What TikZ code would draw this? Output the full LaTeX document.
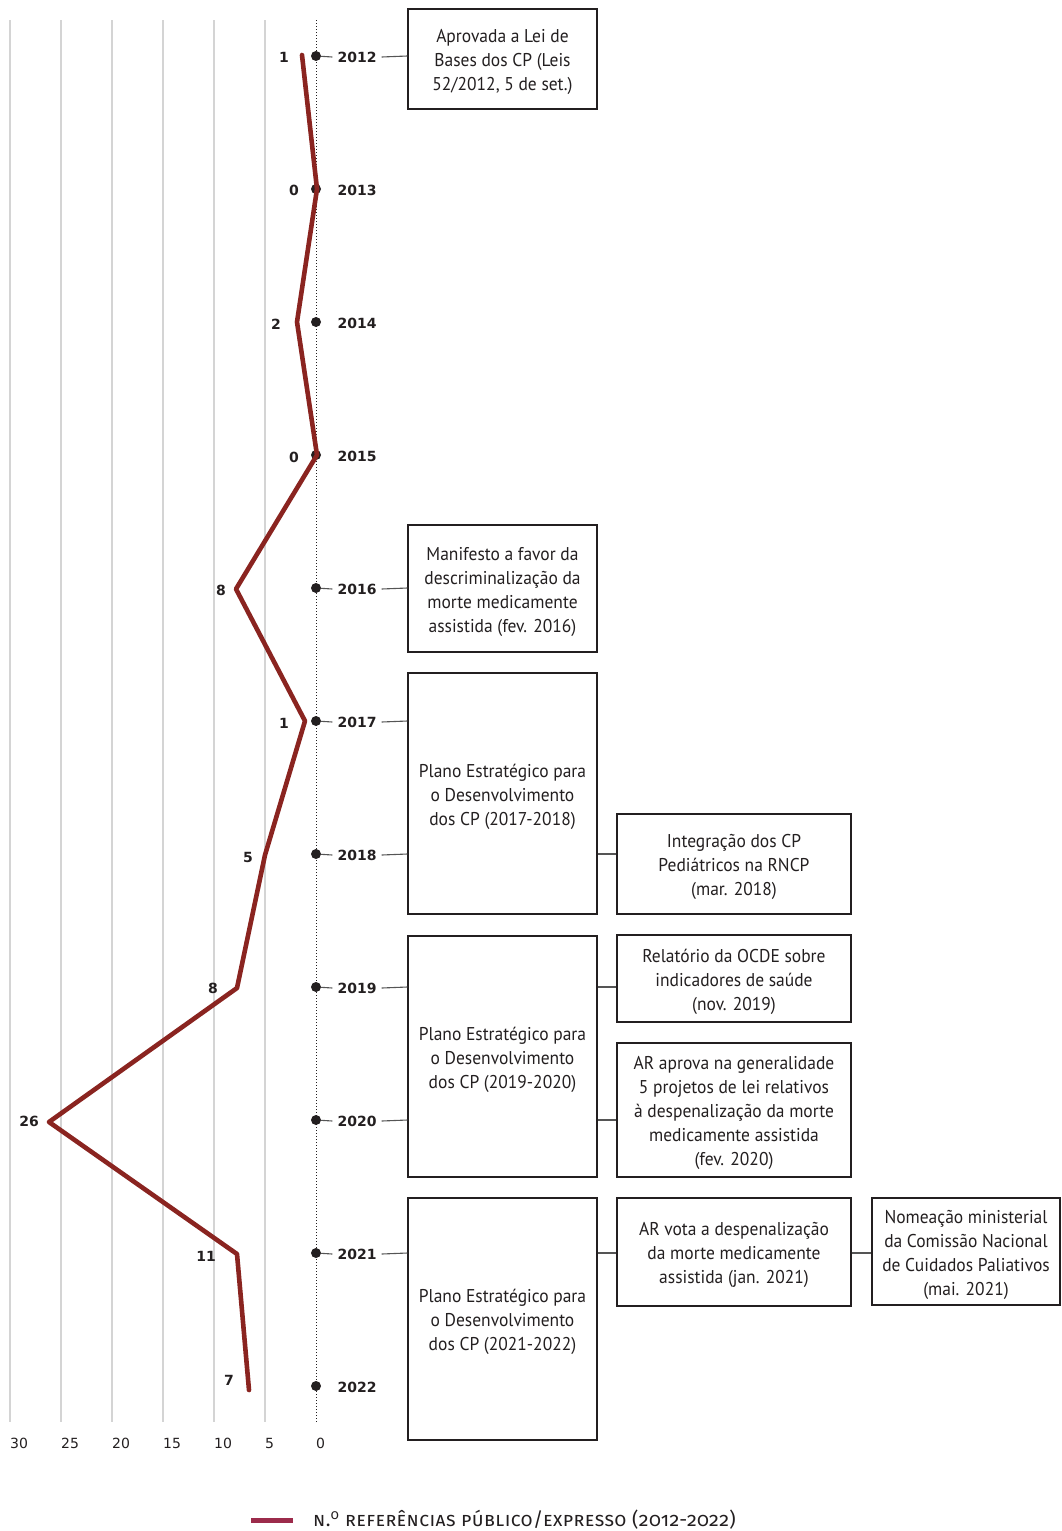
\documentclass[tikz,border=0pt]{standalone}
\usepackage{fontspec}
\setmainfont{PT Sans}
\newfontfamily\boxfont{PT Sans}[FakeStretch=0.945]
\newfontfamily\numfont{DejaVu Sans}
\newfontfamily\legfont{Fira Sans}[Letters=SmallCaps,Numbers=OldStyle,LetterSpace=2]
\definecolor{ink}{HTML}{231F20}
\definecolor{grid}{HTML}{D4D4D4}
\definecolor{series}{HTML}{8A2420}
\definecolor{legbar}{HTML}{9C2B4B}
\definecolor{conn}{HTML}{555555}
\tikzset{
  gridline/.style={draw=grid,line width=1.4pt},
  yeardot/.style={circle,fill=ink,inner sep=0pt,minimum size=10pt},
  yearlbl/.style={font=\numfont\bfseries\fontsize{14}{16}\selectfont,text=ink,inner xsep=5pt,inner ysep=2pt},
  vallbl/.style={font=\numfont\bfseries\fontsize{14}{16}\selectfont,text=ink,inner sep=0pt},
  axlbl/.style={font=\numfont\fontsize{14}{16}\selectfont,text=ink,inner sep=0pt,anchor=west},
  eventbox/.style={draw=ink,line width=1.1pt,inner sep=0pt},
  eventtext/.style={align=center,text=ink,inner sep=0pt,yshift=-3pt,
    font=\boxfont\fontsize{18.5}{24}\selectfont},
  link/.style={draw=conn,line width=1.1pt},
  seriesline/.style={draw=series,line width=4.6pt,line cap=round,line join=round},
}
\begin{document}
\begin{tikzpicture}[x=1pt,y=-1pt]
\useasboundingbox (0,0) rectangle (1061,1531);
% grid
\foreach \gx in {10,61,112,163,214,265} \draw[gridline] (\gx,20) -- (\gx,1422);
\draw[ink,line width=1pt,dotted] (316,20) -- (316,1422);
% axis labels
\node[axlbl] (a30) at (10,1443) {30};
\node[axlbl] (a25) at (61,1443) {25};
\node[axlbl] (a20) at (112,1443) {20};
\node[axlbl] (a15) at (163,1443) {15};
\node[axlbl] (a10) at (214,1443) {10};
\node[axlbl] (a5) at (265,1443) {5};
\node[axlbl] (a0) at (316,1443) {0};
% year dots and labels
\foreach \yr/\yy in {2012/56,2013/189,2014/322,2015/455,2016/588,2017/721,2018/854,2019/987,2020/1120,2021/1253,2022/1386}{
  \node[yeardot] (d\yr) at (316,\yy) {};
  \node[yearlbl] (y\yr) at (357,\yy+1) {\yr};
}
% series line
\draw[seriesline] (302,55) -- (317,189) -- (297,322) -- (317,455) -- (236,589) -- (305,721) -- (265,855) -- (237,988) -- (49,1122) -- (237,1254) -- (249,1390);
% value labels
\node[vallbl] (v2012) at (284,57) {1};
\node[vallbl] (v2013) at (294,190) {0};
\node[vallbl] (v2014) at (276,324) {2};
\node[vallbl] (v2015) at (294,457) {0};
\node[vallbl] (v2016) at (221,590) {8};
\node[vallbl] (v2017) at (284,723) {1};
\node[vallbl] (v2018) at (248,857) {5};
\node[vallbl] (v2019) at (213,988) {8};
\node[vallbl] (v2020) at (29,1121) {26};
\node[vallbl] (v2021) at (206,1256) {11};
\node[vallbl] (v2022) at (229,1380) {7};
% boxes
\node[eventbox,minimum width=189pt,minimum height=100pt,label={[eventtext]center:Aprovada a Lei de\\Bases dos CP (Leis\\52/2012, 5 de set.)}] (b1) at (502.5,59) {};
\node[eventbox,minimum width=189pt,minimum height=127pt,label={[eventtext]center:Manifesto a favor da\\descriminalização da\\morte medicamente\\assistida (fev. 2016)}] (b2) at (502.5,588.5) {};
\node[eventbox,minimum width=189pt,minimum height=241pt,label={[eventtext]center:Plano Estratégico para\\o Desenvolvimento\\dos CP (2017-2018)}] (b3) at (502.5,793.5) {};
\node[eventbox,minimum width=234pt,minimum height=100pt,label={[eventtext]center:Integração dos CP\\Pediátricos na RNCP\\(mar. 2018)}] (b4) at (734,864) {};
\node[eventbox,minimum width=189pt,minimum height=241pt,label={[eventtext]center:Plano Estratégico para\\o Desenvolvimento\\dos CP (2019-2020)}] (b5) at (502.5,1056.5) {};
\node[eventbox,minimum width=234pt,minimum height=87pt,label={[eventtext]center:Relatório da OCDE sobre\\indicadores de saúde\\(nov. 2019)}] (b6) at (734,978.5) {};
\node[eventbox,minimum width=234pt,minimum height=134pt,label={[eventtext]center:AR aprova na generalidade\\5 projetos de lei relativos\\à despenalização da morte\\medicamente assistida\\(fev. 2020)}] (b7) at (734,1110) {};
\node[eventbox,minimum width=189pt,minimum height=242pt,label={[eventtext]center:Plano Estratégico para\\o Desenvolvimento\\dos CP (2021-2022)}] (b8) at (502.5,1319) {};
\node[eventbox,minimum width=234pt,minimum height=108pt,label={[eventtext]center:AR vota a despenalização\\da morte medicamente\\assistida (jan. 2021)}] (b9) at (734,1252) {};
\node[eventbox,minimum width=188pt,minimum height=107pt,label={[eventtext]center:Nomeação ministerial\\da Comissão Nacional\\de Cuidados Paliativos\\(mai. 2021)}] (b10) at (966,1251.5) {};
% dot-to-year ticks
\foreach \yr in {2012,2016,2017,2018,2019,2020,2021}{
  \draw[link] (d\yr) -- (y\yr.west);
}
% year-to-box links
\draw[link] (y2012.east) -- (b1.west |- d2012);
\draw[link] (y2016.east) -- (b2.west |- d2016);
\draw[link] (y2017.east) -- (b3.west |- d2017);
\draw[link] (y2018.east) -- (b3.west |- d2018);
\draw[link] (y2019.east) -- (b5.west |- d2019);
\draw[link] (y2020.east) -- (b5.west |- d2020);
\draw[link] (y2021.east) -- (b8.west |- d2021);
% box-to-box links
\draw[link] (b3.east |- d2018) -- (b4.west |- d2018);
\draw[link] (b5.east |- d2019) -- (b6.west |- d2019);
\draw[link] (b5.east |- d2020) -- (b7.west |- d2020);
\draw[link] (b8.east |- d2021) -- (b9.west |- d2021);
\draw[link] (b9.east |- d2021) -- (b10.west |- d2021);
% legend
\coordinate (lg1) at (251,1520);
\coordinate (lg2) at (293,1520);
\draw[draw=legbar,line width=5pt] (lg1) -- (lg2);
\node[anchor=west,inner sep=0pt,text=ink,font=\legfont\fontsize{19.6}{22}\selectfont] (leg) at (313,1520) {n.\textsuperscript{o} referências público/expresso (2012-2022)};
\end{tikzpicture}
\end{document}
